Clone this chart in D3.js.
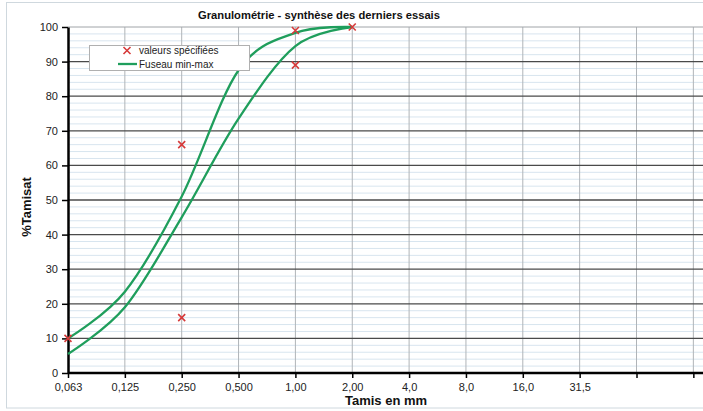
<!DOCTYPE html>
<html><head><meta charset="utf-8">
<script src="https://cdn.jsdelivr.net/npm/d3@7"></script>
<style>body{margin:0;background:#fff}svg{display:block}text{font-family:"Liberation Sans",Arial,sans-serif}</style>
</head><body><svg id="c" width="703" height="411"></svg>
<script>
const categories = ["0,063","0,125","0,250","0,500","1,00","2,00","4,0","8,0","16,0","31,5","",""];
const fuseauMax = [10, 23.5, 51, 87.5, 98.3, 100];
const fuseauMin = [5.5, 19, 45, 73.5, 94.5, 100];
const specCats = ["0,063","0,250","0,250","1,00","1,00","2,00"];
const specVals = [10, 66, 16, 99, 89, 100];
const yTicks = [0,10,20,30,40,50,60,70,80,90,100];

const svg = d3.select("#c");
const mLeft = 68, mTop = 27, mBottom = 373, mRight = 720;
const step = 56.85;
const x = d3.scalePoint().domain(categories.map((c,i)=>i)).range([mLeft, mLeft + step*(categories.length-1)]);
const y = d3.scaleLinear().domain([0, 100]).range([mBottom, mTop]);
const catX = c => x(categories.indexOf(c));

// outer border
svg.append("rect").attr("x",6.5).attr("y",2.5).attr("width",720).attr("height",405.5)
  .attr("fill","#fff").attr("stroke","#cfd8de").attr("stroke-width",1);

// minor gridlines
const minor = d3.range(2, 100, 2).filter(v => v % 10 !== 0);
svg.append("g").selectAll("line").data(minor).join("line")
  .attr("x1", mLeft).attr("x2", mRight).attr("y1", d=>y(d)).attr("y2", d=>y(d))
  .attr("stroke","#d8e5ef").attr("stroke-width",1);

// vertical gridlines
svg.append("g").selectAll("line").data(categories.map((c,i)=>i).slice(1)).join("line")
  .attr("x1", d=>x(d)).attr("x2", d=>x(d)).attr("y1", mTop).attr("y2", mBottom)
  .attr("stroke","#b0b4b8").attr("stroke-width",1);

// major gridlines
svg.append("g").selectAll("line").data(yTicks.slice(1,-1)).join("line")
  .attr("x1", mLeft).attr("x2", mRight).attr("y1", d=>y(d)).attr("y2", d=>y(d))
  .attr("stroke","#4a4a4a").attr("stroke-width",1.3);
svg.append("line").attr("x1",mLeft).attr("x2",mRight).attr("y1",y(100)).attr("y2",y(100))
  .attr("stroke","#a0a4a8").attr("stroke-width",1);

// axes
const yAxis = d3.axisLeft(y).tickValues(yTicks).tickSize(6).tickSizeOuter(0).tickPadding(4).tickFormat(d3.format("d"));
const gy = svg.append("g").attr("transform",`translate(${mLeft},0)`).call(yAxis);
gy.select(".domain").attr("stroke","#000").attr("stroke-width",2.5);
gy.selectAll(".tick line").attr("stroke","#000").attr("stroke-width",1.5);
gy.selectAll("text").attr("font-size",11).attr("fill","#222").attr("font-family","Liberation Sans, Arial");

const xAxis = d3.axisBottom(x).tickSize(5).tickPadding(5).tickFormat(i=>categories[i]);
const gx = svg.append("g").attr("transform",`translate(0,${mBottom})`).call(xAxis);
gx.select(".domain").attr("d", `M${mLeft},0H${mRight}`).attr("stroke","#000").attr("stroke-width",2.5);
gx.selectAll(".tick line").attr("stroke","#000").attr("stroke-width",1.5);
gx.selectAll("text").attr("font-size",11).attr("fill","#222").attr("font-family","Liberation Sans, Arial");

// curves
const line = d3.line().x((d,i)=>x(i)).y(d=>y(d)).curve(d3.curveCardinal.tension(0));
[fuseauMax, fuseauMin].forEach(s=>{
  svg.append("path").attr("d", line(s)).attr("fill","none")
    .attr("stroke","#1f9e5c").attr("stroke-width",2.3);
});

// scatter
const xs = 3.5;
const pts = svg.append("g");
specVals.forEach((v,i)=>{
  const cx = catX(specCats[i]), cy = y(v);
  pts.append("path").attr("d",`M${cx-xs},${cy-xs}L${cx+xs},${cy+xs}M${cx-xs},${cy+xs}L${cx+xs},${cy-xs}`)
    .attr("stroke","#d63a3a").attr("stroke-width",1.6);
});

// legend
const lg = svg.append("g");
lg.append("rect").attr("x",89.5).attr("y",45.5).attr("width",160).attr("height",25)
  .attr("fill","#fff").attr("stroke","#b0b0b0");
lg.append("path").attr("d",`M${127-3.5},${47}l7,7m-7,0l7,-7`).attr("stroke","#d63a3a").attr("stroke-width",1.6);
lg.append("text").attr("x",139).attr("y",54).attr("font-size",10).attr("fill","#222").text("valeurs spécifiées");
lg.append("line").attr("x1",118).attr("x2",137).attr("y1",64).attr("y2",64).attr("stroke","#1f9e5c").attr("stroke-width",2.3);
lg.append("text").attr("x",139).attr("y",68).attr("font-size",10).attr("fill","#222").text("Fuseau min-max");

// titles
svg.append("text").attr("x",319).attr("y",19).attr("text-anchor","middle").attr("font-size",11.2)
  .attr("font-weight","bold").attr("fill","#111").text("Granulométrie - synthèse des derniers essais");
svg.append("text").attr("x",386).attr("y",405).attr("text-anchor","middle").attr("font-size",13)
  .attr("font-weight","bold").attr("fill","#111").text("Tamis en mm");
svg.append("text").attr("transform","translate(31,207) rotate(-90)").attr("text-anchor","middle").attr("font-size",13)
  .attr("font-weight","bold").attr("fill","#111").text("%Tamisat");
</script></body></html>
